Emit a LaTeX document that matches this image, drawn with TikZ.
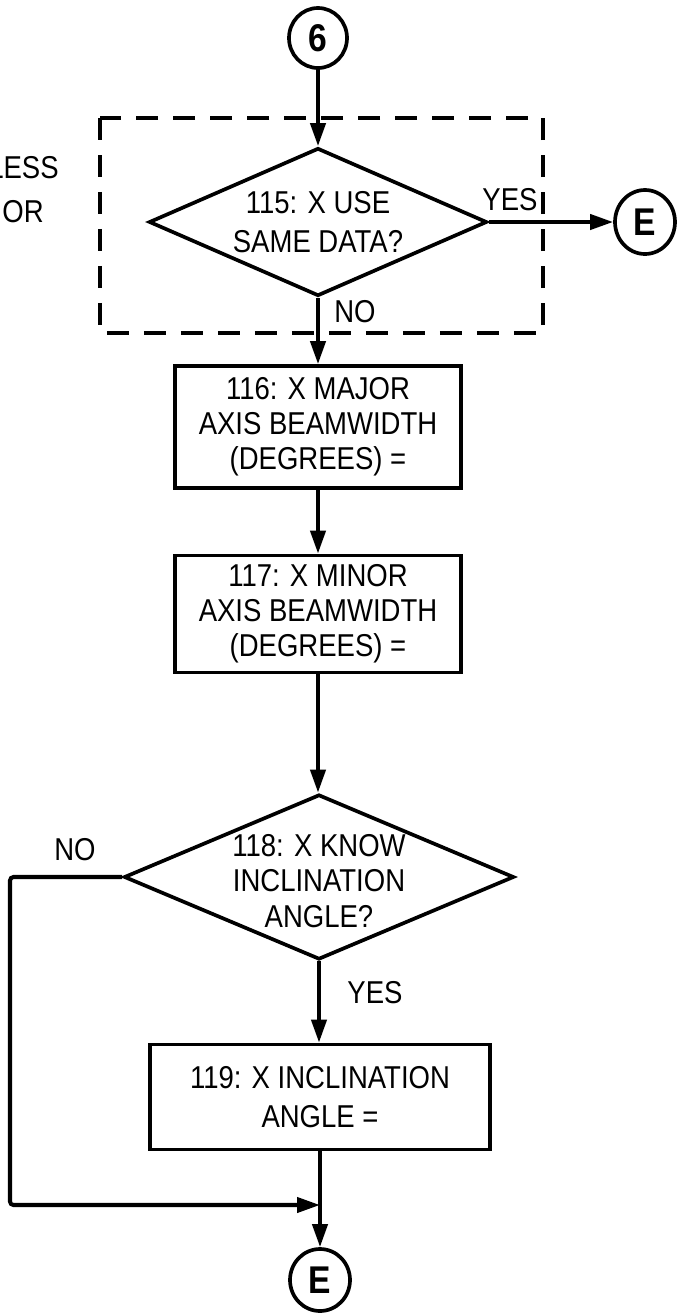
\documentclass[tikz,border=0pt]{standalone}
\usepackage{fontspec}
\setmainfont[FakeStretch=0.87]{Liberation Sans}
\usetikzlibrary{shapes.geometric,arrows.meta}
\begin{document}
\begin{tikzpicture}[x=0.02cm,y=-0.02cm,
  every node/.style={font=\fontsize{18}{20}\selectfont},
  ln/.style={line width=2.3pt},
  arr/.style={ln,-{Triangle[length=0.46cm,width=0.3cm]}},
  stepbox/.style={draw,line width=2.1pt,rectangle,inner sep=0pt,align=center},
  decbox/.style={draw,line width=2.1pt,diamond,inner sep=0pt},
  conn/.style={draw,line width=2.1pt,ellipse,inner sep=0pt,font=\fontsize{22}{22}\selectfont\bfseries},
  lbl/.style={inner sep=0pt,align=center}]
\useasboundingbox (0,0) rectangle (682,1313);
% connectors (circles)
\node[conn,minimum width=58*0.02cm,minimum height=60*0.02cm] (c6) at (318,38) {6};
\node[conn,minimum width=60*0.02cm,minimum height=64*0.02cm] (e1) at (645,222) {E};
\node[conn,minimum width=60*0.02cm,minimum height=62*0.02cm] (e2) at (320,1280) {E};
% dashed frame
\draw[line width=2pt,dash pattern=on 0.44cm off 0.3cm] (100,118) rectangle (543,333);
% decision 115
\node[decbox,minimum width=338*0.02cm,minimum height=148*0.02cm] (d115) at (318,222) {};
\node[lbl] (t115) at (318,222) {115: X USE\\[2pt]SAME DATA?};
% boxes
\node[stepbox,minimum width=286*0.02cm,minimum height=122*0.02cm] (b116) at (318,427) {116: X MAJOR\\AXIS BEAMWIDTH\\(DEGREES) =};
\node[stepbox,minimum width=286*0.02cm,minimum height=117*0.02cm] (b117) at (318,614) {117: X MINOR\\AXIS BEAMWIDTH\\(DEGREES) =};
\node[decbox,minimum width=390*0.02cm,minimum height=165*0.02cm] (d118) at (319,877) {};
\node[lbl] (t118) at (319,881) {118: X KNOW\\INCLINATION\\ANGLE?};
\node[stepbox,minimum width=340*0.02cm,minimum height=105*0.02cm] (b119) at (320,1097) {119: X INCLINATION\\[2pt]ANGLE =};
% labels
\node[lbl] (yes1) at (510,200) {YES};
\node[lbl] (no1) at (355,312) {NO};
\node[lbl] (no2) at (75,850) {NO};
\node[lbl] (yes2) at (375,993) {YES};
\node[lbl,anchor=east] (less) at (59,168) {LESS};
\node[lbl,anchor=east] (or) at (44,212) {OR};
% coordinates
\coordinate (nl) at (10,877);
\coordinate (jn) at (320,1205);
% connectors
\draw[arr] (c6) -- (d115.north);
\draw[arr] (d115.east) -- (e1);
\draw[arr] (d115.south) -- (b116.north);
\draw[arr] (b116) -- (b117);
\draw[arr] (b117.south) -- (b117.south |- d118.north);
\draw[arr] (d118.south) -- (d118.south |- b119.north);
\draw[arr] (b119.south) -- (e2.north);
\draw[arr,rounded corners=2pt] (d118.west) -- (nl) |- (jn);
\end{tikzpicture}
\end{document}
